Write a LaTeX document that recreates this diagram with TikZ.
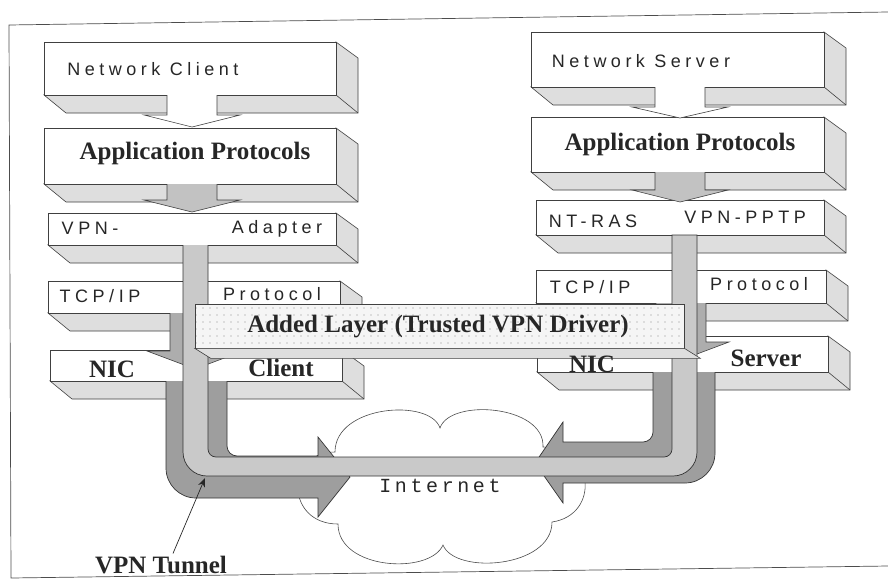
\documentclass[tikz,border=0pt]{standalone}
\usepackage{fontspec}
\setmainfont{Liberation Serif}
\newfontfamily\labelsans[LetterSpace=25]{Liberation Sans}
\newfontfamily\labelmono[LetterSpace=18]{Liberation Mono}
\usetikzlibrary{arrows.meta,patterns.meta}

\begin{document}
\begin{tikzpicture}[x=1pt,y=-1pt]

        \tikzstyle{face}=[fill=black!13,draw=black!75,line width=0.6pt]
        \tikzstyle{front}=[fill=white,draw=black!75,line width=0.6pt]
        \tikzstyle{sanslbl}=[font=\labelsans\fontsize{18}{20}\selectfont,anchor=base,inner sep=0pt,text=black!85]
        \tikzstyle{seriflbl}=[font=\bfseries\fontsize{25}{28}\selectfont,anchor=base,inner sep=0pt,text=black!85]
        \tikzstyle{pipe}=[draw=black!80,line width=0.7pt]

        \useasboundingbox (0,0) rectangle (888,581);

        % frame of the scan
        \draw[black!70,line width=0.7pt] (888,12) -- (9,25) -- (11,578) -- (888,566);

        % the internet
        \draw[black!70,line width=0.6pt,fill=white] (440,428) .. controls (450,398) and (545,405) .. (543,447)
            .. controls (595,447) and (600,515) .. (552,522)
            .. controls (552,568) and (455,575) .. (443,545)
            .. controls (430,575) and (338,570) .. (338,524)
            .. controls (285,524) and (285,452) .. (335,452)
            .. controls (335,405) and (430,398) .. (440,428) -- cycle;
        \node[font=\labelmono\fontsize{20}{22}\selectfont,anchor=base,inner sep=0pt,text=black!85] (inettxt) at (440,492) {Internet};

        % layer boxes: front face plus bottom and side
        \foreach \n/\xa/\ya/\xb/\yb in {nclient/44/42/336/95, appl/44/128/336/184, vpnadapt/48/213/336/245, tcpl/48/281/340/313, nicl/50/350/342/381,
                                        nserver/531/32/824/87, appr/531/117/824/172, ntras/536/200/824/235, tcpr/536/270/826/303, nicr/537/336/828/372} {
            \filldraw[face] (\xa,\yb) -- (\xa+22,\yb+18) -- (\xb+22,\yb+18) -- (\xb+22,\ya+16) -- (\xb,\ya) -- (\xb,\yb) -- cycle;
            \draw[face] (\xb,\yb) -- (\xb+22,\yb+18);
            \draw[front] (\xa,\ya) rectangle (\xb,\yb);
            \coordinate (\n) at (\xa,\ya);
        }

        % block arrows between the layers
        \foreach \cx/\ya/\yb/\yt/\col in {192/95/115/127/white, 192/184/200/212/black!24, 680/87/107/118/white, 680/172/190/202/black!24,
                                          195/313/351/369/black!32, 681/303/342/360/black!32} {
            \filldraw[fill=\col,draw=black!75,line width=0.6pt] (\cx-25,\ya) -- (\cx-25,\yb) -- (\cx-48,\yb) -- (\cx,\yt) -- (\cx+48,\yb) -- (\cx+25,\yb) -- (\cx+25,\ya);
        }

        % NIC to internet
        \filldraw[pipe,fill=black!38] (166,381) [rounded corners=30pt] -- (166,498) [sharp corners] -- (318,498) -- (318,517) -- (350,477) -- (318,437) -- (318,456) [rounded corners=10pt] -- (227,456) [sharp corners] -- (227,381);
        \filldraw[pipe,fill=black!38] (715,372) [rounded corners=30pt] -- (715,483) [sharp corners] -- (563,483) -- (563,503) -- (535,463) -- (563,422) -- (563,442) [rounded corners=10pt] -- (653,442) [sharp corners] -- (653,372);

        % the tunnel itself
        \filldraw[pipe,fill=black!21] (183,245) [rounded corners=24pt] -- (183,476) -- (697,476) [sharp corners] -- (697,235) -- (672,235) [rounded corners=8pt] -- (672,457) -- (208,457) [sharp corners] -- (208,245);

        % trusted driver layer
        \node[draw=black!75,line width=0.6pt,preaction={fill=black!4},pattern={Dots[distance=7pt,radius=0.6pt]},pattern color=black!45,
              minimum width=489pt,minimum height=44pt,inner sep=0pt] (added) at (439.5,326) {};
        \filldraw[face] (added.south west) -- (added.south east) -- ++(16,10) -- ([shift={(16,10)}]added.south west) -- cycle;
        \node[seriflbl] (addedtxt) at (438,332) {Added Layer (Trusted VPN Driver)};

        % labels, client side
        \node[sanslbl] (ncltxt) at (153,75) {Network Client};
        \node[seriflbl] (apltxt) at (195,159) {Application Protocols};
        \node[sanslbl] (vpntxt) at (90,234) {VPN-};
        \node[sanslbl] (adapttxt) at (277,233) {Adapter};
        \node[sanslbl] (tcpltxt) at (100,302) {TCP/IP};
        \node[sanslbl] (protltxt) at (272,300) {Protocol};
        \node[seriflbl] (nicltxt) at (112,377) {NIC};
        \node[seriflbl] (clienttxt) at (281,376) {Client};

        % labels, server side
        \node[sanslbl] (nsrvtxt) at (641,67) {Network Server};
        \node[seriflbl] (aprtxt) at (680,150) {Application Protocols};
        \node[sanslbl] (ntrastxt) at (593,227) {NT-RAS};
        \node[sanslbl] (pptptxt) at (745,223) {VPN-PPTP};
        \node[sanslbl] (tcprtxt) at (590,293) {TCP/IP};
        \node[sanslbl] (protrtxt) at (759,290) {Protocol};
        \node[seriflbl] (nicrtxt) at (592,372) {NIC};
        \node[seriflbl] (servertxt) at (766,366) {Server};

        % pointer to the tunnel
        \coordinate (tunhit) at (205,478);
        \node[seriflbl] (tunnel) at (161,573) {VPN Tunnel};
        \draw[black!85,line width=0.7pt,-{Stealth[length=9pt,width=7pt]}] ([xshift=12pt,yshift=2pt]tunnel.north) -- (tunhit);

\end{tikzpicture}
\end{document}
